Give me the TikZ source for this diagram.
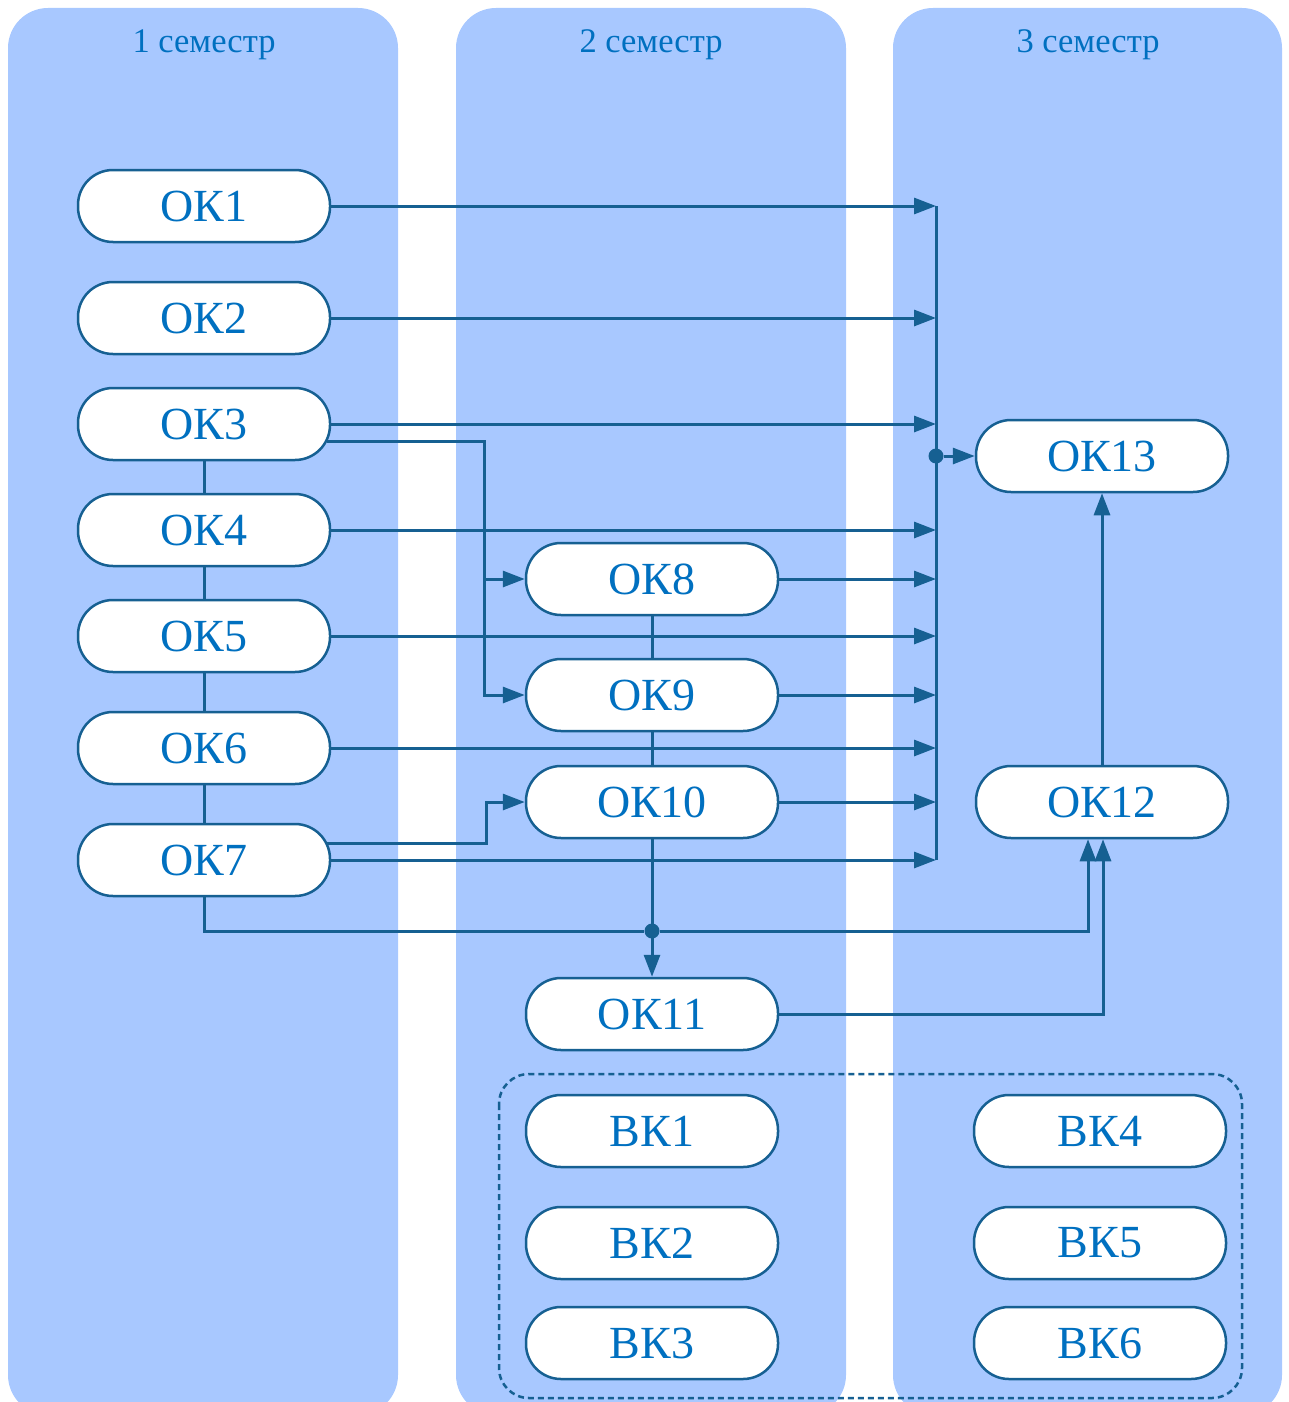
\documentclass[tikz,border=0pt]{standalone}
\usepackage{fontspec}
\setmainfont{Liberation Serif}
\usetikzlibrary{arrows.meta}

\definecolor{colfill}{RGB}{168,200,255}
\definecolor{linecol}{RGB}{22,96,146}
\definecolor{txtcol}{RGB}{0,112,192}

\begin{document}
\begin{tikzpicture}[x=1pt,y=-1pt,
  course/.style={draw=linecol, line width=2.5pt, fill=white, rounded corners=35pt,
    minimum width=252pt, minimum height=72pt, inner sep=0pt,
    text=txtcol, font=\fontsize{46}{50}\selectfont},
  link/.style={draw=linecol, line width=3pt},
  arr/.style={link, -{Triangle[length=22pt,width=16pt]}},
  dot/.style={circle, fill=linecol, inner sep=0pt, minimum size=15pt},
  head/.style={text=txtcol, font=\fontsize{34.5}{38}\selectfont}]

\useasboundingbox (0,0) rectangle (1288,1402);
\clip (0,0) rectangle (1288,1402);

% Semester columns
\fill[colfill, rounded corners=40pt] (8,8) rectangle (398,1415);
\fill[colfill, rounded corners=40pt] (456,8) rectangle (846,1415);
\fill[colfill, rounded corners=40pt] (893,8) rectangle (1282,1415);

\node[head] (h1) at (204,45) {1 семестр};
\node[head] (h2) at (651,45) {2 семестр};
\node[head] (h3) at (1088,45) {3 семестр};

% Elective group
\draw[linecol, line width=2.5pt, dash pattern=on 6pt off 4pt, rounded corners=30pt]
  (499,1074) rectangle (1242,1398);

% Courses
\node[course] (ok1) at (204,206) {ОК1};
\node[course] (ok2) at (204,318) {ОК2};
\node[course] (ok3) at (204,424) {ОК3};
\node[course] (ok4) at (204,530) {ОК4};
\node[course] (ok5) at (204,636) {ОК5};
\node[course] (ok6) at (204,748) {ОК6};
\node[course] (ok7) at (204,860) {ОК7};

\node[course] (ok8) at (652,579) {ОК8};
\node[course] (ok9) at (652,695) {ОК9};
\node[course] (ok10) at (652,802) {ОК10};
\node[course] (ok11) at (652,1014) {ОК11};

\node[course] (ok12) at (1102,802) {ОК12};
\node[course] (ok13) at (1102,456) {ОК13};

\node[course] (vk1) at (652,1131) {ВК1};
\node[course] (vk2) at (652,1243) {ВК2};
\node[course] (vk3) at (652,1343) {ВК3};
\node[course] (vk4) at (1100,1131) {ВК4};
\node[course] (vk5) at (1100,1243) {ВК5};
\node[course] (vk6) at (1100,1343) {ВК6};

% Chains inside a semester
\foreach \a/\b in {ok3/ok4,ok4/ok5,ok5/ok6,ok6/ok7,ok8/ok9,ok9/ok10}
  \draw[link] (\a) -- (\b);

% Bus into ОК13
\coordinate (busTop) at (936,206);
\coordinate (busBot) at (936,860);
\draw[link] (busTop) -- (busBot);
\foreach \n in {ok1,ok2,ok3,ok4,ok5,ok6,ok7,ok8,ok9,ok10}
  \draw[arr] (\n.east) -- (\n -| busTop);
\node[dot] (jb) at (busTop |- ok13) {};
\draw[arr] (jb) -- (ok13);

% ОК3 -> ОК8, ОК9
\draw[arr] ([shift={(-4,17)}]ok3.east) -| ([xshift=-40pt]ok8.west) -- (ok8.west);
\draw[arr] ([xshift=-40pt]ok8.west) |- (ok9.west);

% ОК7 -> ОК10
\draw[arr] ([shift={(-4,-17)}]ok7.east) -| ([xshift=-38pt]ok10.west) -- (ok10.west);

% ОК7, ОК10 -> ОК11, ОК12
\node[dot] (jn) at (ok10 |- 0,931) {};
\draw[link] (ok7.south) |- (jn);
\draw[arr] (jn) -| ([xshift=-14pt]ok12.south);
\draw[arr] (ok10) -- (ok11);
\draw[arr] (ok11.east) -| ([xshift=1pt]ok12.south);
\draw[arr] (ok12) -- (ok13);

\end{tikzpicture}
\end{document}
